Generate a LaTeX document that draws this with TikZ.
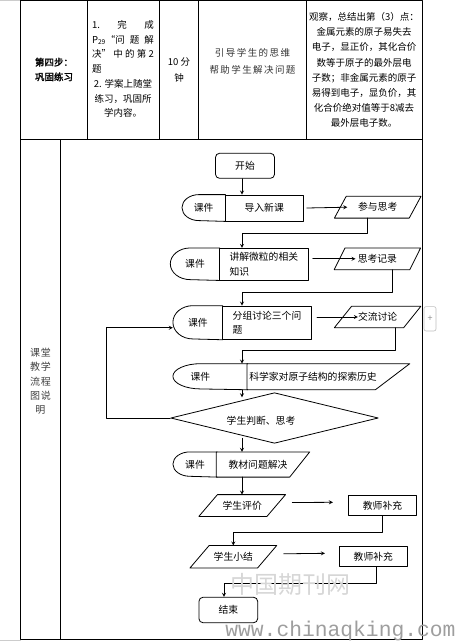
\documentclass[tikz,border=0pt]{standalone}
\usepackage{fontspec}
\setmainfont{Noto Sans CJK SC}[AutoFakeBold=2]
\newfontfamily\wmfont{Liberation Mono}
\usetikzlibrary{shapes.geometric,arrows}
\newcommand{\flowfont}{\fontsize{9.8pt}{14.5pt}\selectfont}
\newcommand{\cellfont}{\fontsize{9.5pt}{14.7pt}\selectfont}
% outline of a slanted box round a named node
\newcommand{\slantdraw}[3]{\draw ([xshift=#2]#1.north west) -- ([xshift=#3]#1.north east) -- ([xshift=-#3]#1.south east) -- ([xshift=-#2]#1.south west) -- cycle;}
% half-ellipse "课件" outline round a named node
\newcommand{\kjdraw}[3]{\draw (#1.north east) -- ([xshift=#2]#1.north west) arc[start angle=90, end angle=270, x radius=#2, y radius=#3] -- (#1.south east);}
\begin{document}
\begin{tikzpicture}[x=1pt, y=-1pt, line cap=round, line join=round, >=stealth, line width=0.8pt, font=\flowfont]
	\tikzset{cell/.style={inner sep=0pt, align=center, font=\cellfont},
		startbox/.style={draw, rounded corners=4pt, inner sep=0pt},
		kjbox/.style={inner sep=0pt},
		stepbox/.style={draw, inner sep=0pt},
		slant/.style={inner sep=0pt},
		judge/.style={draw, shape=diamond, shape aspect=4, inner sep=0pt}}
	\useasboundingbox (0,0) rectangle (456,642);
	\draw[black!20, line width=1pt] (0,0.5)--(20.5,0.5) (0,640.6)--(20.5,640.6);
	% table
	\draw[line width=0.9pt] (20.5,0.7) rectangle (422.5,639.3);
	\draw[line width=0.9pt] (20.5,139.5)--(422.5,139.5)
	(87.5,0.7)--(87.5,139.5) (159.3,0.7)--(159.3,139.5)
	(198.7,0.7)--(198.7,139.5) (306.3,0.7)--(306.3,139.5)
	(60.3,139.5)--(60.3,639.3);
	\node[cell, font=\cellfont\bfseries] (stage) at (54,69.5) {第四步：\\巩固练习};
	\node[cell, align=left] (task) at (123,69) {\makebox[62pt][s]{1.\hfill 完\hfill 成}\\
		\makebox[62pt][s]{P\textsubscript{29}“问\hfill 题\hfill 解}\\
		\makebox[62pt][s]{决”\hfill 中\hfill 的\hfill 第\hfill 2}\\
		题\\
		\makebox[62pt]{2. 学案上随堂}\\
		\makebox[62pt]{练习，巩固所}\\
		\makebox[62pt]{学内容。}};
	\node[cell, font=\fontsize{9.5pt}{16pt}\selectfont] (time) at (179,70) {10 分\\钟};
	\node[cell, text=black!80, font=\fontsize{9.5pt}{17pt}\selectfont\addfontfeature{LetterSpace=15}] (aim) at (252.5,61.5) {引导学生的思维\\帮助学生解决问题};
	\node[cell, font=\fontsize{9.5pt}{15.1pt}\selectfont] (summary) at (364,70) {观察，总结出第（3）点：\\金属元素的原子易失去\\电子，显正价，其化合价\\数等于原子的最外层电\\子数；非金属元素的原子\\易得到电子，显负价，其\\化合价绝对值等于8减去\\最外层电子数。};
	\node[cell, text=black!75, font=\fontsize{10pt}{14.3pt}\selectfont\addfontfeature{LetterSpace=8}] (flowlabel) at (40.4,381.5) {课堂\\教学\\流程\\图说\\明};
	% flow chart
	\coordinate (spine) at (242,0);
	\node[startbox, minimum width=59pt, minimum height=25pt] (start) at (245,165.8) {开始};
	\node[kjbox, minimum width=42.7pt, minimum height=26pt] (kj1) at (203.7,208) {课件};
	\kjdraw{kj1}{17pt}{13pt}
	\node[stepbox, minimum width=78.3pt, minimum height=26pt] (s1) at (264.2,208) {导入新课};
	\node[slant, minimum width=74pt, minimum height=21pt] (p1) at (377.7,207.2) {参与思考};
	\slantdraw{p1}{5.9pt}{5.9pt}
	\node[kjbox, minimum width=48.6pt, minimum height=31.7pt] (kj2) at (195,264.2) {课件};
	\kjdraw{kj2}{20pt}{15.85pt}
	\node[stepbox, minimum width=89pt, minimum height=31.7pt, align=left] (s2) at (263.8,264.2) {讲解微粒的相关\\知识};
	\node[slant, minimum width=74.8pt, minimum height=21pt] (p2) at (377.4,258.8) {思考记录};
	\slantdraw{p2}{5.4pt}{5.4pt}
	\node[kjbox, minimum width=49pt, minimum height=33.3pt] (kj3) at (197.8,322.7) {课件};
	\kjdraw{kj3}{20pt}{16.65pt}
	\node[stepbox, minimum width=89.4pt, minimum height=33.3pt, align=left] (s3) at (267,322.7) {分组讨论三个问\\题};
	\node[slant, minimum width=68.5pt, minimum height=20.6pt] (p3) at (377.6,317) {交流讨论};
	\slantdraw{p3}{8.6pt}{8.6pt}
	\node[kjbox, minimum width=74pt, minimum height=25.3pt] (kj4) at (210.3,376.7) {课件\hspace*{20pt}};
	\kjdraw{kj4}{28pt}{12.65pt}
	\node[slant, minimum height=25.3pt, text width=140.9pt, inner xsep=2pt, align=left] (t4) at (319.75,376.7) {科学家对原子结构的探索历史};
	\slantdraw{t4}{0pt}{17.2pt}
	\node[judge, minimum width=207.6pt, minimum height=50.6pt, label={[name=judgetext, xshift=-13.5pt, yshift=-3pt]center:学生判断、思考}] (dm) at (274.5,418) {};
	\node[kjbox, minimum width=43.4pt, minimum height=24.4pt] (kj5) at (195,464.5) {课件};
	\kjdraw{kj5}{17pt}{12.2pt}
	\node[slant, minimum width=82.6pt, minimum height=24.4pt] (t5) at (258,464.5) {教材问题解决};
	\slantdraw{t5}{0pt}{10pt}
	\node[slant, minimum width=67.3pt, minimum height=21pt] (p6) at (242.2,505.5) {学生评价};
	\slantdraw{p6}{9.3pt}{9.3pt}
	\node[stepbox, minimum width=68.4pt, minimum height=20.7pt] (q6) at (382.5,505.3) {教师补充};
	\node[slant, minimum width=66.8pt, minimum height=21.7pt] (p7) at (233.3,556.8) {学生小结};
	\slantdraw{p7}{9.6pt}{9.6pt}
	\node[stepbox, minimum width=68pt, minimum height=20.7pt] (q7) at (373.3,556.3) {教师补充};
	\node[startbox, minimum width=58.7pt, minimum height=25.4pt] (end) at (228.3,610) {结束};
	% connectors
	\draw[->] (start.south -| spine)--(s1.north -| spine);
	\draw[->] ([xshift=3pt]s1.east)--([xshift=7pt]p1.west);
	\draw[->] ([xshift=-10pt]p1.south)--++(0,15.6) -| (s2.north -| spine);
	\draw[->] ([xshift=4pt]s2.east |- p2.west)--([xshift=16pt]p2.west);
	\draw[->] ([xshift=15pt]p2.south)--++(0,22.4) -| (s3.north -| spine);
	\draw[->] ([xshift=5pt]s3.east |- p3.west)--([xshift=15pt]p3.west);
	\draw[->] ([xshift=18pt]p3.south)--++(0,22.7) -| (kj4.north -| spine);
	\draw[->] (kj4.south -| spine)--([yshift=-5pt]dm.north -| spine);
	\draw[->] (dm.west)--++(-64,0) |- ([yshift=-5pt]kj3.west);
	\draw[->] ([yshift=5.5pt]dm.south -| spine)--(t5.north -| spine);
	\draw[->] (t5.south -| spine)--(p6.north -| spine);
	\draw[->] ([xshift=16pt,yshift=3pt]p6.east)--([xshift=-15pt,yshift=3pt]q6.west);
	\draw[->] (q6.south)--++(0,16.6) -| (p7.north);
	\draw[->] ([xshift=16.6pt,yshift=3pt]p7.east)--([xshift=-14pt,yshift=3pt]q7.west);
	\draw[->] ([xshift=3pt]q7.south)--++(0,16.6) -| ([xshift=-4.3pt]end.north);
	% page marks
	\node[draw=black!25, rounded corners=2pt, line width=0.6pt, minimum width=12pt, minimum height=24.3pt, inner sep=0pt, text=black!45, font=\fontsize{9pt}{9pt}\selectfont] (plus) at (430,318.8) {+};
	\node[text=black!16, font=\fontsize{24pt}{24pt}\selectfont, inner sep=0pt] (wmcn) at (290,584) {中国期刊网};
	\node[text=black!38, font=\wmfont\fontsize{21.3pt}{22pt}\selectfont, anchor=base west, inner sep=0pt] (wmurl) at (225,636.5) {www.chinaqking.com};
\end{tikzpicture}
\end{document}
